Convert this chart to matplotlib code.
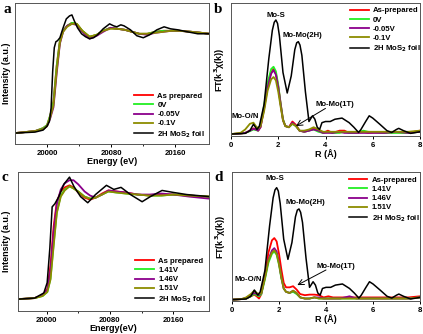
import matplotlib
matplotlib.use("Agg")
import matplotlib.pyplot as plt

plt.rcParams['font.family'] = ['Liberation Sans', 'DejaVu Sans']
plt.rcParams['font.weight'] = 'bold'
plt.rcParams['axes.labelweight'] = 'bold'

# ---------------- data ----------------
# panel a (XANES, cathodic)
E_A = [19960, 19985, 19995, 20000, 20004, 20008, 20012, 20016, 20020, 20025, 20031, 20037,
       20044, 20053, 20062, 20070, 20079, 20088, 20097, 20106, 20115, 20125, 20135, 20145,
       20155, 20165, 20180, 20192, 20203]
A_ASPREP = [0.0, 0.02, 0.05, 0.08, 0.18, 0.32, 0.68, 0.93, 1.03, 1.08, 1.11, 1.10,
            1.03, 0.97, 0.99, 1.03, 1.06, 1.05, 1.04, 1.02, 1.00, 1.00, 1.02, 1.03,
            1.03, 1.03, 1.02, 1.01, 1.00]
A_0V = [0.0, 0.02, 0.05, 0.08, 0.18, 0.31, 0.67, 0.93, 1.03, 1.08, 1.11, 1.10,
        1.03, 0.97, 0.99, 1.03, 1.06, 1.05, 1.04, 1.02, 1.00, 1.00, 1.02, 1.03,
        1.03, 1.03, 1.02, 1.01, 1.00]
A_M005 = [0.0, 0.02, 0.04, 0.07, 0.15, 0.26, 0.60, 0.90, 1.02, 1.08, 1.10, 1.09,
          1.02, 0.95, 0.98, 1.02, 1.06, 1.05, 1.04, 1.02, 1.00, 0.99, 1.01, 1.02,
          1.03, 1.03, 1.02, 1.01, 1.00]
A_M01 = [0.0, 0.02, 0.04, 0.07, 0.16, 0.28, 0.63, 0.91, 1.02, 1.07, 1.10, 1.10,
         1.03, 0.97, 0.99, 1.03, 1.05, 1.05, 1.04, 1.02, 1.00, 1.00, 1.01, 1.02,
         1.03, 1.03, 1.02, 1.01, 1.00]
E_FOIL_A = [19960, 19985, 19995, 20000, 20003, 20005, 20007, 20009, 20011, 20013, 20016, 20020,
            20024, 20028, 20031, 20034, 20038, 20043, 20048, 20053, 20058, 20063, 20070, 20078,
            20083, 20087, 20092, 20096, 20104, 20112, 20120, 20128, 20137, 20146, 20154, 20163,
            20175, 20188, 20203]
A_FOIL = [0.0, 0.01, 0.03, 0.07, 0.12, 0.25, 0.62, 0.86, 0.92, 0.93, 0.96, 1.06,
          1.15, 1.18, 1.19, 1.13, 1.06, 1.00, 0.97, 0.95, 0.96, 0.99, 1.05, 1.10,
          1.08, 1.07, 1.09, 1.08, 1.04, 0.98, 0.96, 0.99, 1.04, 1.07, 1.05, 1.04,
          1.02, 1.00, 1.00]

# panel c (XANES, anodic)
E_C = [19965, 19985, 19995, 20001, 20005, 20009, 20013, 20018, 20023, 20029, 20034, 20040,
       20048, 20055, 20062, 20070, 20078, 20088, 20100, 20115, 20130, 20145, 20160, 20180, 20205]
C_ASPREP = [0.0, 0.01, 0.04, 0.10, 0.33, 0.71, 0.95, 1.05, 1.09, 1.11, 1.09, 1.04,
            0.99, 0.97, 0.99, 1.03, 1.06, 1.05, 1.04, 1.02, 1.01, 1.02, 1.02, 1.01, 1.00]
C_141 = [0.0, 0.01, 0.03, 0.07, 0.20, 0.54, 0.85, 1.01, 1.07, 1.10, 1.08, 1.05,
         1.00, 0.98, 0.99, 1.02, 1.05, 1.04, 1.03, 1.02, 1.01, 1.01, 1.02, 1.01, 1.00]
C_146 = [0.0, 0.01, 0.04, 0.09, 0.28, 0.66, 0.93, 1.07, 1.13, 1.16, 1.16, 1.12,
         1.05, 1.01, 0.99, 1.02, 1.06, 1.05, 1.04, 1.02, 1.02, 1.03, 1.02, 1.00, 0.98]
C_151 = [0.0, 0.01, 0.03, 0.07, 0.19, 0.52, 0.84, 1.00, 1.06, 1.10, 1.08, 1.05,
         1.00, 0.98, 0.99, 1.02, 1.05, 1.04, 1.03, 1.02, 1.01, 1.01, 1.02, 1.01, 1.00]
E_FOIL_C = [19965, 19985, 19996.6, 20000.8, 20004.2, 20007.1, 20010.5, 20015.5, 20021.8, 20029,
            20034.5, 20042.9, 20052, 20061.8, 20075.6, 20084.9, 20094, 20105.9, 20120.6, 20131,
            20145.8, 20160.5, 20177, 20205]
C_FOIL = [0.0, 0.01, 0.06, 0.16, 0.50, 0.90, 0.93, 1.00, 1.12, 1.19,
          1.10, 1.00, 0.94, 1.02, 1.11, 1.07, 1.09, 1.02, 0.95, 1.00,
          1.06, 1.04, 1.02, 1.00]

# panels b, d (FT-EXAFS)
R_FOIL = [0, 0.6, 0.8, 0.95, 1.1, 1.2, 1.4, 1.6, 1.75, 1.83, 1.9, 1.97, 2.05, 2.2, 2.38, 2.55,
          2.7, 2.78, 2.85, 2.92, 3.0, 3.15, 3.3, 3.45, 3.55, 3.65, 3.75, 3.85, 4.0, 4.2, 4.4,
          4.7, 5.0, 5.2, 5.4, 5.5, 5.7, 5.85, 6.0, 6.3, 6.6, 6.8, 7.0, 7.1, 7.3, 7.6, 8.0]
FT_FOIL = [0, 0.006, 0.03, 0.086, 0.04, 0.07, 0.26, 0.66, 0.91, 0.98, 1.0, 0.97, 0.86, 0.54,
           0.36, 0.51, 0.74, 0.80, 0.81, 0.78, 0.69, 0.37, 0.11, 0.16, 0.13, 0.06, 0.04, 0.10,
           0.11, 0.11, 0.13, 0.14, 0.10, 0.06, 0.014, 0.04, 0.11, 0.16, 0.14, 0.086, 0.03,
           0.014, 0.04, 0.05, 0.03, 0.006, 0.02]
R_S = [0, 0.4, 0.6, 0.8, 0.95, 1.05, 1.15, 1.25, 1.4, 1.55, 1.7, 1.8, 1.9, 2.0, 2.1, 2.2,
       2.3, 2.45, 2.6, 2.75, 2.9, 3.1, 3.3, 3.5, 3.7, 3.9, 4.1, 4.3, 4.6, 4.8, 5.0, 5.3,
       5.6, 5.8, 6.1, 6.5, 7.0, 7.5, 8.0]
B_ASPREP = [0.0, 0.005, 0.01, 0.03, 0.05, 0.04, 0.03, 0.06, 0.23, 0.42, 0.54, 0.57, 0.53,
            0.42, 0.27, 0.13, 0.07, 0.06, 0.11, 0.08, 0.03, 0.02, 0.03, 0.05, 0.03, 0.01,
            0.03, 0.01, 0.03, 0.03, 0.01, 0.01, 0.02, 0.01, 0.015, 0.01, 0.015, 0.01, 0.03]
B_0V = [0.0, 0.005, 0.01, 0.025, 0.04, 0.035, 0.03, 0.07, 0.25, 0.45, 0.57, 0.59, 0.55,
        0.43, 0.27, 0.13, 0.07, 0.06, 0.09, 0.07, 0.03, 0.02, 0.03, 0.04, 0.02, 0.01,
        0.02, 0.01, 0.01, 0.02, 0.01, 0.01, 0.03, 0.02, 0.015, 0.01, 0.01, 0.01, 0.02]
B_M005 = [0.0, 0.005, 0.01, 0.03, 0.045, 0.04, 0.03, 0.06, 0.22, 0.41, 0.53, 0.56, 0.52,
          0.41, 0.26, 0.12, 0.07, 0.06, 0.10, 0.07, 0.03, 0.02, 0.03, 0.04, 0.03, 0.01,
          0.01, 0.01, 0.02, 0.01, 0.01, 0.01, 0.01, 0.01, 0.01, 0.01, 0.02, 0.01, 0.02]
B_M01 = [0.0, 0.01, 0.04, 0.09, 0.10, 0.07, 0.05, 0.07, 0.20, 0.38, 0.48, 0.50, 0.47,
         0.37, 0.24, 0.12, 0.07, 0.06, 0.09, 0.07, 0.03, 0.03, 0.04, 0.06, 0.04, 0.02,
         0.02, 0.02, 0.02, 0.02, 0.02, 0.02, 0.02, 0.02, 0.02, 0.02, 0.02, 0.02, 0.03]
D_ASPREP = [0.0, 0.005, 0.01, 0.03, 0.044, 0.03, 0.01, 0.05, 0.22, 0.42, 0.53, 0.55, 0.52,
            0.41, 0.27, 0.15, 0.11, 0.11, 0.12, 0.09, 0.05, 0.04, 0.045, 0.045, 0.04, 0.02,
            0.03, 0.02, 0.02, 0.02, 0.02, 0.02, 0.02, 0.02, 0.02, 0.02, 0.02, 0.02, 0.03]
D_141 = [0.0, 0.005, 0.01, 0.03, 0.05, 0.04, 0.03, 0.05, 0.18, 0.33, 0.41, 0.43, 0.40,
         0.31, 0.19, 0.10, 0.07, 0.06, 0.07, 0.05, 0.02, 0.01, 0.01, 0.02, 0.01, 0.01,
         0.01, 0.01, 0.01, 0.01, 0.01, 0.01, 0.01, 0.01, 0.01, 0.01, 0.01, 0.01, 0.02]
D_146 = [0.0, 0.005, 0.015, 0.04, 0.06, 0.05, 0.04, 0.06, 0.20, 0.36, 0.44, 0.46, 0.43,
         0.33, 0.20, 0.10, 0.07, 0.06, 0.08, 0.06, 0.02, 0.01, 0.01, 0.02, 0.02, 0.01,
         0.01, 0.01, 0.01, 0.02, 0.03, 0.01, 0.01, 0.01, 0.01, 0.01, 0.01, 0.01, 0.02]
D_151 = [0.0, 0.005, 0.02, 0.05, 0.08, 0.06, 0.05, 0.06, 0.19, 0.35, 0.42, 0.44, 0.41,
         0.32, 0.20, 0.10, 0.07, 0.06, 0.08, 0.06, 0.02, 0.01, 0.01, 0.02, 0.01, 0.01,
         0.01, 0.01, 0.01, 0.01, 0.01, 0.01, 0.01, 0.01, 0.01, 0.01, 0.01, 0.01, 0.02]

LABELS_A = ["As prepared", "0V", "-0.05V", "-0.1V", "2H MoS$_2$ foil"]
LABELS_B = ["As-prepared", "0V", "-0.05V", "-0.1V", "2H MoS$_2$ foil"]
LABELS_C = ["As prepared", "1.41V", "1.46V", "1.51V", "2H MoS$_2$ foil"]
LABELS_D = ["As-prepared", "1.41V", "1.46V", "1.51V", "2H MoS$_2$ foil"]
XTICKS_E = [20000, 20080, 20160]
XTICKS_R = [0, 2, 4, 6, 8]

COLORS = ["#ff0000", "#22ee22", "#8b008b", "#8c8c00", "#000000"]

W, H = 423, 334
fig = plt.figure(figsize=(W / 100, H / 100), dpi=100)


def add_ax(l, t, r, b):
    return fig.add_axes([l / W, 1 - b / H, (r - l) / W, (b - t) / H])


FS_T = 5.6
FS_L = 6.5


def style(ax):
    ax.set_yticks([])
    ax.tick_params(axis='x', direction='out', length=2.5, width=0.7, labelsize=FS_T, pad=1.5)
    ax.tick_params(axis='x', which='minor', direction='out', length=1.5, width=0.6)
    for s in ax.spines.values():
        s.set_linewidth(0.7)
        s.set_color('#555555')


def legend(ax, anchor):
    ax.legend(loc='upper left', bbox_to_anchor=anchor, frameon=False, fontsize=FS_T,
              handlelength=2.4, handletextpad=0.55, labelspacing=0.22, borderpad=0,
              borderaxespad=0, prop={'weight': 'bold', 'size': FS_T})


# ---- a ----
ax = add_ax(15, 3, 209, 144)
for y, c, lab in zip([A_ASPREP, A_0V, A_M005, A_M01], COLORS[:4], LABELS_A[:4]):
    ax.plot(E_A, y, color=c, lw=1.3, label=lab)
ax.plot(E_FOIL_A, A_FOIL, color='k', lw=1.1, label=LABELS_A[4])
ax.set_xlim(19960, 20202)
ax.set_ylim(-0.11, 1.31)
ax.set_xticks(XTICKS_E)
ax.set_xticks([20040, 20120], minor=True)
style(ax)
ax.set_xlabel("Energy (eV)", fontsize=FS_L, labelpad=0.5)
ax.set_ylabel("Intensity (a.u.)", fontsize=FS_L, labelpad=3)
legend(ax, (0.615, 0.365))

# ---- b ----
ax = add_ax(231, 3, 420, 136)
for y, c, lab in zip([B_ASPREP, B_0V, B_M005, B_M01], COLORS[:4], LABELS_B[:4]):
    ax.plot(R_S, y, color=c, lw=1.3, label=lab)
ax.plot(R_FOIL, FT_FOIL, color='k', lw=1.1, label=LABELS_B[4])
ax.set_xlim(0, 8)
ax.set_ylim(-0.017, 1.149)
ax.set_xticks(XTICKS_R)
style(ax)
ax.set_xlabel("R (Å)", fontsize=FS_L, labelpad=0.5)
ax.set_ylabel("FT(k$^3$χ(k))", fontsize=FS_L, labelpad=3)
legend(ax, (0.63, 0.97))
ax.text(1.9, 1.04, "Mo-S", fontsize=FS_T, ha='center', va='center')
ax.text(3.02, 0.86, "Mo-Mo(2H)", fontsize=FS_T, ha='center', va='center')
ax.text(4.4, 0.26, "Mo-Mo(1T)", fontsize=FS_T, ha='center', va='center')
ax.text(0.62, 0.157, "Mo-O/N", fontsize=FS_T, ha='center', va='center')
ax.annotate("", xy=(2.75, 0.07), xytext=(4.0, 0.225),
            arrowprops=dict(arrowstyle='->', color='k', lw=0.7, shrinkA=0, shrinkB=0))

# ---- c ----
ax = add_ax(18, 172, 209, 311)
for y, c, lab in zip([C_ASPREP, C_141, C_146, C_151], COLORS[:4], LABELS_C[:4]):
    ax.plot(E_C, y, color=c, lw=1.3, label=lab)
ax.plot(E_FOIL_C, C_FOIL, color='k', lw=1.1, label=LABELS_C[4])
ax.set_xlim(19964, 20205)
ax.set_ylim(-0.116, 1.24)
ax.set_xticks(XTICKS_E)
ax.set_xticks([20040, 20120], minor=True)
style(ax)
ax.set_xlabel("Energy(eV)", fontsize=FS_L, labelpad=0.5)
ax.set_ylabel("Intensity (a.u.)", fontsize=FS_L, labelpad=5)
legend(ax, (0.615, 0.385))

# ---- d ----
ax = add_ax(232, 172, 420, 301)
for y, c, lab in zip([D_ASPREP, D_141, D_146, D_151], COLORS[:4], LABELS_D[:4]):
    ax.plot(R_S, y, color=c, lw=1.3, label=lab)
ax.plot(R_FOIL, FT_FOIL, color='k', lw=1.1, label=LABELS_D[4])
ax.set_xlim(0, 8)
ax.set_ylim(-0.012, 1.14)
ax.set_xticks(XTICKS_R)
style(ax)
ax.set_xlabel("R (Å)", fontsize=FS_L, labelpad=0.5)
ax.set_ylabel("FT(k$^3$χ(k))", fontsize=FS_L, labelpad=3)
legend(ax, (0.62, 0.965))
ax.text(1.82, 1.085, "Mo-S", fontsize=FS_T, ha='center', va='center')
ax.text(3.14, 0.87, "Mo-Mo(2H)", fontsize=FS_T, ha='center', va='center')
ax.text(4.42, 0.30, "Mo-Mo(1T)", fontsize=FS_T, ha='center', va='center')
ax.text(0.69, 0.18, "Mo-O/N", fontsize=FS_T, ha='center', va='center')
ax.annotate("", xy=(2.78, 0.13), xytext=(4.0, 0.265),
            arrowprops=dict(arrowstyle='->', color='k', lw=0.7, shrinkA=0, shrinkB=0))

# panel letters
for lab, x, y in [("a", 3, 3), ("b", 214, 3), ("c", 2, 171), ("d", 214, 171)]:
    fig.text(x / W, 1 - y / H, lab, fontsize=11, fontweight='bold',
             family=['Liberation Serif', 'DejaVu Serif'], ha='left', va='top')

fig.savefig("out.png", dpi=100)
